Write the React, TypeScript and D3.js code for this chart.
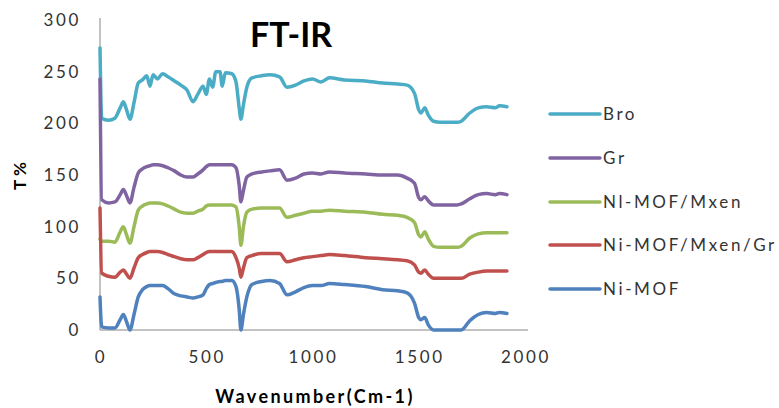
import * as d3 from "d3";

// wavenumber grid (cm-1)
const wavenumbers = [
  0, 8, 40, 70, 95, 110, 125, 141, 160, 180, 200, 220, 235, 250, 270, 295, 320, 350, 380, 410,
  438, 460, 485, 500, 515, 530, 545, 565, 575, 590, 620, 640, 655, 663, 675, 691, 715, 760, 800,
  845, 880, 920, 960, 1000, 1040, 1080, 1150, 1250, 1330, 1400, 1445, 1480, 1500, 1510, 1528,
  1545, 1570, 1600, 1680, 1700, 1740, 1780, 1820, 1860, 1880, 1915,
];

// T % for each sample
const bro = [
  273, 205, 203, 205, 215, 221, 213, 204, 220, 239, 242, 246, 236, 247, 243, 248, 245, 241, 237, 232,
  221, 228, 236, 228, 243, 235, 250, 250, 236, 249, 248, 240, 215, 204, 218, 235, 244, 246, 247,
  245, 235, 237, 241, 243, 240, 244, 242, 241, 239, 238, 237, 229, 213, 210, 215,
  208, 202, 201, 201, 202, 210, 215, 216, 215, 217, 216,
];
const gr = [
  243, 126, 123, 124, 131, 136, 130, 123, 138, 152, 156, 158, 159, 160, 160, 159, 157, 154, 150, 148,
  148, 151, 155, 158, 160, 160, 160, 160, 160, 160, 160, 157, 140, 124, 135, 148, 151, 153, 154,
  155, 145, 147, 151, 152, 151, 153, 152, 151, 150, 150, 147, 142, 128, 126, 129,
  125, 121, 121, 121, 122, 127, 131, 132, 131, 132, 131,
];
const niMofMxen = [
  88, 86, 86, 85, 95, 100, 92, 84, 100, 116, 120, 122, 123, 123, 123, 122, 120, 117, 114, 113,
  113, 115, 117, 120, 121, 121, 121, 121, 121, 121, 121, 119, 100, 82, 100, 114, 117, 118, 118,
  118, 109, 111, 113, 115, 115, 116, 115, 114, 112, 111, 109, 104, 92, 90, 95,
  88, 81, 80, 80, 81, 89, 93, 94, 94, 94, 94,
];
const niMofMxenGr = [
  118, 55, 52, 51, 56, 58, 54, 50, 60, 70, 73, 75, 76, 76, 76, 75, 73, 71, 69, 68,
  68, 70, 73, 75, 76, 76, 76, 76, 76, 76, 76, 70, 60, 51, 60, 70, 72, 74, 74,
  74, 66, 68, 70, 71, 72, 73, 72, 70, 69, 68, 67, 63, 56, 55, 58,
  54, 50, 50, 50, 50, 54, 56, 57, 57, 57, 57,
];
const niMof = [
  32, 3, 2, 2, 10, 15, 8, 0, 15, 32, 39, 42, 43, 43, 43, 43, 40, 35, 33, 32,
  31, 32, 34, 40, 44, 45, 46, 47, 47, 48, 48, 42, 20, 0, 15, 32, 44, 47, 48,
  45, 34, 37, 41, 43, 43, 45, 44, 42, 39, 38, 36, 26, 12, 10, 12,
  5, 0, 0, 0, 0, 9, 15, 17, 16, 17, 16,
];

const seriesNames = ["Bro", "Gr", "Nl-MOF/Mxen", "Ni-MOF/Mxen/Gr", "Ni-MOF"];
const seriesValues = [bro, gr, niMofMxen, niMofMxenGr, niMof];
const seriesColors = ["#4BACC6", "#8064A2", "#9BBB59", "#C0504D", "#4F81BD"];

const xTicks = [0, 500, 1000, 1500, 2000];
const yTicks = [0, 50, 100, 150, 200, 250, 300];

const W = 779;
const H = 408;
const tickFont = "Lato, 'Open Sans', sans-serif";

export default function App() {
  const x = d3.scaleLinear().domain([0, 2000]).range([100, 525]);
  const y = d3.scaleLinear().domain([0, 300]).range([330, 20]);

  const line = d3
    .line<number>()
    .x((_, i) => x(wavenumbers[i]))
    .y((d) => y(Math.max(0, d)))
    .curve(d3.curveMonotoneX);

  return (
    <svg
      width={W}
      height={H}
      style={{ position: "absolute", left: 0, top: 0, background: "#fff" }}
      fontFamily={tickFont}
    >
      {/* axes */}
      <line x1={x(0)} x2={x(0)} y1={18} y2={y(0)} stroke="#868686" strokeWidth={1} />
      <line x1={x(0)} x2={528} y1={y(0)} y2={y(0)} stroke="#868686" strokeWidth={1} />

      {yTicks.map((t) => (
        <text
          key={"y" + t}
          x={81}
          y={y(t)}
          dy="0.35em"
          textAnchor="end"
          fontSize={17}
          letterSpacing={2.6}
          fill="#333"
        >
          {t}
        </text>
      ))}
      {xTicks.map((t) => (
        <text
          key={"x" + t}
          x={x(t) + 1}
          y={357}
          dy="0.35em"
          textAnchor="middle"
          fontSize={17}
          letterSpacing={2.6}
          fill="#333"
        >
          {t}
        </text>
      ))}

      {/* series */}
      {seriesValues.map((vals, i) => (
        <path
          key={seriesNames[i]}
          d={line(vals) ?? ""}
          fill="none"
          stroke={seriesColors[i]}
          strokeWidth={3.5}
          strokeLinejoin="round"
          strokeLinecap="round"
        />
      ))}

      {/* titles */}
      <text x={291} y={47} textAnchor="middle" fontSize={34} fontWeight="bold" fill="#000">
        FT-IR
      </text>
      <text
        transform="translate(26,176) rotate(-90)"
        textAnchor="middle"
        fontSize={17}
        fontWeight="bold"
        fill="#000"
      >
        T %
      </text>
      <text
        x={315}
        y={403}
        textAnchor="middle"
        fontSize={18}
        fontWeight="bold"
        letterSpacing={2.4}
        fill="#000"
      >
        Wavenumber(Cm-1)
      </text>

      {/* legend */}
      {seriesNames.map((name, i) => {
        const ly = [114, 158, 202, 245, 289][i];
        return (
          <g key={"lg" + name}>
            <line x1={550} x2={600} y1={ly} y2={ly} stroke={seriesColors[i]} strokeWidth={3.5} strokeLinecap="round" />
            <text x={603} y={ly} dy="0.35em" fontSize={17} letterSpacing={2.6} fill="#333">
              {name}
            </text>
          </g>
        );
      })}
    </svg>
  );
}
